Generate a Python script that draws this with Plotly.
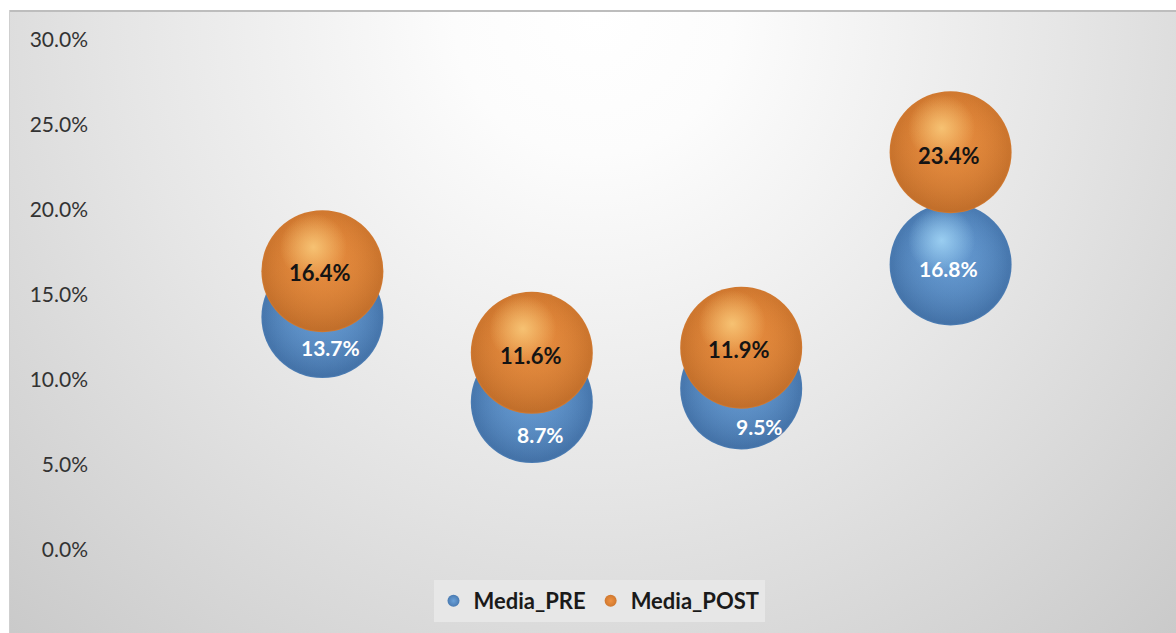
import base64
import plotly.graph_objects as go

# Survey groups (four positions along the horizontal axis)
groups = [1, 2, 3, 4]
media_pre = [13.7, 8.7, 9.5, 16.8]
media_post = [16.4, 11.6, 11.9, 23.4]
series_names = ["Media_PRE", "Media_POST"]
y_ticks = [0, 5, 10, 15, 20, 25, 30]
y_tick_text = [f"{v:.1f}%" for v in y_ticks]

# Figure / plot-area geometry (pixels)
W, H = 1176, 633
PLOT_L, PLOT_R, PLOT_T, PLOT_B = 113, 1160, 40, 550
X_RANGE = [0, 5]
Y_RANGE = [0, 30]
PX_X = (PLOT_R - PLOT_L) / (X_RANGE[1] - X_RANGE[0])
PX_Y = (PLOT_B - PLOT_T) / (Y_RANGE[1] - Y_RANGE[0])
BUBBLE_D = 122

FONT = "Lato, 'Open Sans', sans-serif"

# Label nudges in pixels
pre_label_dx = [8, 9, 18, -2]
pre_label_dy = [-30, -32, -38, -4]
post_label_dx = [-2, -1, -2, -2]
post_label_dy = [-1, -3, -2, -3]


def rgba(hex_color, a):
    h = hex_color.lstrip("#")
    r, g, b = int(h[0:2], 16), int(h[2:4], 16), int(h[4:6], 16)
    return f"rgba({r},{g},{b},{a})"


def sphere_traces(name, xs, ys, edge, body, shade, glow):
    """Stack a few radial/vertical gradient markers to fake a lit 3-D ball."""
    out = []
    out.append(go.Scatter(
        x=xs, y=ys, mode="markers", name=name, showlegend=True,
        cliponaxis=False, hoverinfo="skip",
        marker=dict(size=BUBBLE_D, color=edge, line=dict(width=0),
                    gradient=dict(type="radial", color=body)),
    ))
    out.append(go.Scatter(
        x=xs, y=ys, mode="markers", showlegend=False, cliponaxis=False,
        hoverinfo="skip",
        marker=dict(size=BUBBLE_D * 0.94, color=rgba(body, 0), line=dict(width=0),
                    gradient=dict(type="radial", color=rgba(body, 1))),
    ))
    out.append(go.Scatter(
        x=xs, y=ys, mode="markers", showlegend=False, cliponaxis=False,
        hoverinfo="skip",
        marker=dict(size=BUBBLE_D - 2, color=rgba(shade, 0), line=dict(width=0),
                    gradient=dict(type="vertical", color=rgba(shade, 0.25))),
    ))
    gx = [x - 9 / PX_X for x in xs]
    gy = [y + 24 / PX_Y for y in ys]
    out.append(go.Scatter(
        x=gx, y=gy, mode="markers", showlegend=False, cliponaxis=False,
        hoverinfo="skip",
        marker=dict(size=BUBBLE_D * 0.55, color=rgba(glow, 0), line=dict(width=0),
                    gradient=dict(type="radial", color=rgba(glow, 0.8))),
    ))
    return out


fig = go.Figure()
for t in sphere_traces(series_names[0], groups, media_pre,
                       "#4a7bb2", "#6aa0d8", "#2f5585", "#a8dcfa"):
    fig.add_trace(t)
for t in sphere_traces(series_names[1], groups, media_post,
                       "#d0782f", "#ef9242", "#93501c", "#fbd080"):
    fig.add_trace(t)

annotations = []
for x, v, dx, dy in zip(groups, media_pre, pre_label_dx, pre_label_dy):
    annotations.append(dict(
        x=x, y=v, xref="x", yref="y", text=f"{v:.1f}%", showarrow=False,
        xshift=dx, yshift=dy,
        font=dict(family=FONT, size=21, color="#ffffff", weight="bold"),
    ))
for x, v, dx, dy in zip(groups, media_post, post_label_dx, post_label_dy):
    annotations.append(dict(
        x=x, y=v, xref="x", yref="y", text=f"{v:.1f}%", showarrow=False,
        xshift=dx, yshift=dy,
        font=dict(family=FONT, size=22, color="#141414", weight="bold"),
    ))

# Soft radial backdrop for the chart frame
FRAME_X0, FRAME_Y0 = 9, 10
fw, fh = W - FRAME_X0, H - FRAME_Y0
svg = f"""<svg xmlns="http://www.w3.org/2000/svg" width="{fw}" height="{fh}" viewBox="0 0 {fw} {fh}" preserveAspectRatio="none">
<defs><radialGradient id="bg" gradientUnits="userSpaceOnUse" cx="585" cy="5" r="930">
<stop offset="0" stop-color="#ffffff"/>
<stop offset="0.15" stop-color="#fcfcfc"/>
<stop offset="0.5" stop-color="#e6e6e6"/>
<stop offset="1" stop-color="#c4c4c4"/>
</radialGradient></defs>
<rect width="{fw}" height="{fh}" fill="url(#bg)"/>
<rect x="0" y="0" width="{fw}" height="2" fill="#bdbdbd"/>
<rect x="0" y="0" width="1" height="{fh}" fill="#cfcfcf"/>
</svg>"""
bg_src = "data:image/svg+xml;base64," + base64.b64encode(svg.encode()).decode()

fig.update_layout(
    width=W, height=H,
    margin=dict(l=0, r=0, t=0, b=0, autoexpand=False),
    paper_bgcolor="#ffffff",
    plot_bgcolor="rgba(0,0,0,0)",
    images=[dict(
        source=bg_src, xref="paper", yref="paper",
        x=FRAME_X0 / W, y=1 - FRAME_Y0 / H,
        sizex=fw / W, sizey=fh / H,
        xanchor="left", yanchor="top", sizing="stretch", layer="below",
    )],
    xaxis=dict(
        domain=[PLOT_L / W, PLOT_R / W], range=X_RANGE,
        showgrid=False, zeroline=False, showline=False,
        showticklabels=False, ticks="", automargin=False,
    ),
    yaxis=dict(
        domain=[1 - PLOT_B / H, 1 - PLOT_T / H], range=Y_RANGE,
        tickmode="array", tickvals=y_ticks, ticktext=y_tick_text,
        showgrid=False, zeroline=False, showline=False, ticks="",
        ticklabelstandoff=24, automargin=False,
        tickfont=dict(family=FONT, size=21, color="#333333"),
    ),
    legend=dict(
        orientation="h", x=599 / W, xanchor="center",
        y=1 - 580 / H, yanchor="top",
        bgcolor="#e7e7e7", borderwidth=0,
        itemsizing="constant", itemwidth=30,
        font=dict(family=FONT, size=22, color="#1a1a1a", weight="bold"),
    ),
    annotations=annotations,
    showlegend=True,
)

fig.write_html("out.html")
